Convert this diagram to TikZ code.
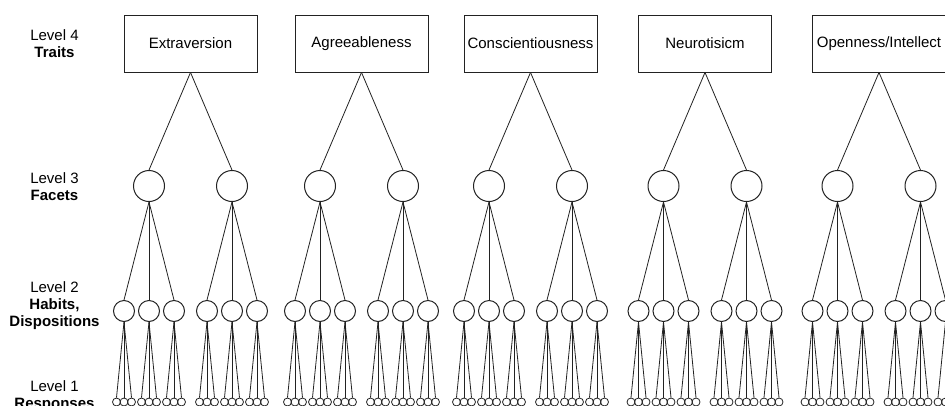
\documentclass[tikz,border=0pt]{standalone}
\usepackage{fontspec}
\setmainfont{Liberation Sans}
\definecolor{ink}{HTML}{222222}
\begin{document}
\begin{tikzpicture}[x=1pt,y=-1pt,
  every node/.style={text=black},
  lbl/.style={anchor=base,font=\fontsize{15}{17}\selectfont,inner sep=0},
  lblb/.style={lbl,font=\fontsize{15}{17}\selectfont\bfseries},
  traitbox/.style={draw=ink,line width=0.9pt,minimum width=133,minimum height=57,inner sep=0,font=\fontsize{15}{17}\selectfont},
  facet/.style={circle,draw=ink,line width=1pt,minimum size=31,inner sep=0},
  habit/.style={circle,draw=ink,line width=1pt,minimum size=21,inner sep=0},
  resp/.style={circle,draw=ink,line width=0.8pt,minimum size=8,inner sep=0},
  link/.style={draw=ink,line width=0.8pt}]
\useasboundingbox (0,0) rectangle (945,405);

% level labels on the left
\node[lbl]  (l4a) at (54.5,40)    {Level 4};
\node[lblb] (l4b) at (54.5,57)    {Traits};
\node[lbl]  (l3a) at (54.5,183.3) {Level 3};
\node[lblb] (l3b) at (54.5,200.5) {Facets};
\node[lbl]  (l2a) at (54.5,292.7) {Level 2};
\node[lblb] (l2b) at (54.5,309.5) {Habits,};
\node[lblb] (l2c) at (54.5,326)   {Dispositions};
\node[lbl]  (l1a) at (54.5,391.7) {Level 1};
\node[lblb] (l1b) at (54.5,408)   {Responses};

% one tree per trait: trait -> 2 facets -> 3 habits each -> 3 responses each
\foreach \c/\name [count=\i] in {190.5/Extraversion,361.5/Agreeableness,530.5/Conscientiousness,705/Neurotisicm,879/Openness\slash Intellect}{
  \node[traitbox] (t\i) at (\c,43.5) {\name};
  \foreach \fo [count=\j] in {-41.5,41.5}{
    \node[facet] (f\i-\j) at (\c+\fo,186) {};
    \draw[link] (t\i.south) -- (f\i-\j.north);
    \foreach \ho [count=\k] in {-25,0,25}{
      \node[habit] (h\i-\j-\k) at (\c+\fo+\ho,311) {};
      \draw[link] (f\i-\j.south) -- (h\i-\j-\k.north);
      \foreach \ro [count=\l] in {-7.5,0,7.5}{
        \node[resp] (r\i-\j-\k-\l) at (\c+\fo+\ho+\ro,402) {};
        \draw[link] (h\i-\j-\k.south) -- (r\i-\j-\k-\l.north);
      }
    }
  }
}
\end{tikzpicture}
\end{document}
